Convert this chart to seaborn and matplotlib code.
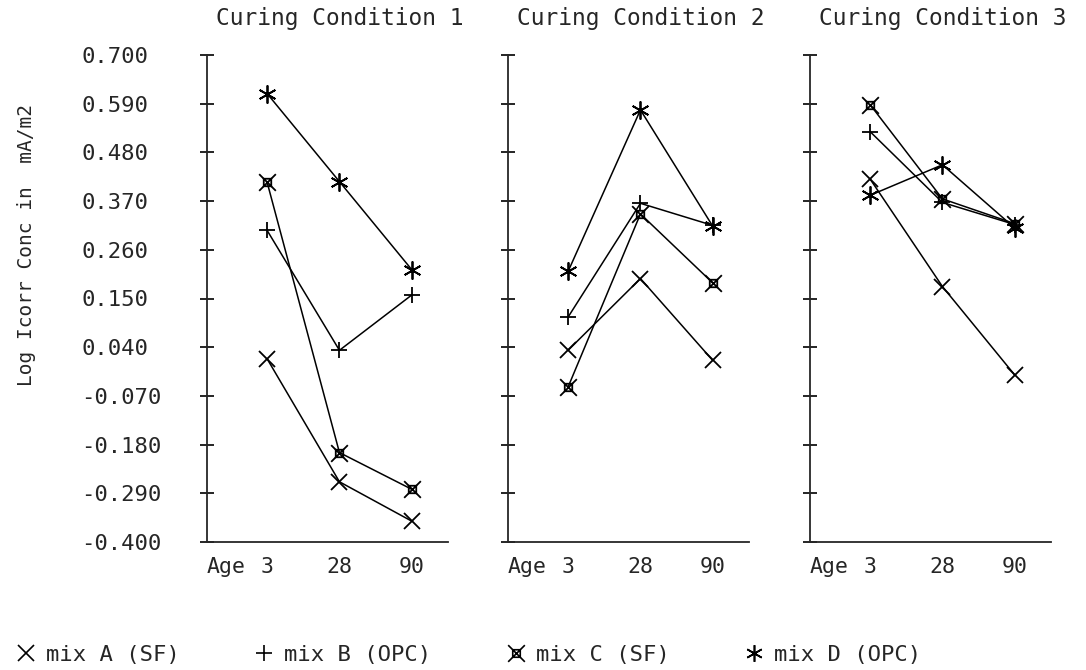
import numpy as np
import pandas as pd
import matplotlib
matplotlib.use("Agg")
import matplotlib.pyplot as plt
from matplotlib.path import Path
from matplotlib.markers import MarkerStyle
from matplotlib.lines import Line2D
import seaborn as sns

# ---- data -------------------------------------------------------------
conditions = ["Curing Condition 1", "Curing Condition 2", "Curing Condition 3"]
ages = ["3", "28", "90"]
mix_labels = ["mix A (SF)", "mix B (OPC)", "mix C (SF)", "mix D (OPC)"]

# log Icorr per curing condition, ages 3 / 28 / 90 days
mix_a = [[0.014, -0.264, -0.353], [0.033, 0.195, 0.010], [0.420, 0.177, -0.023]]
mix_b = [[0.304, 0.033, 0.158], [0.108, 0.365, 0.315], [0.527, 0.367, 0.317]]
mix_c = [[0.413, -0.198, -0.281], [-0.050, 0.341, 0.185], [0.588, 0.375, 0.319]]
mix_d = [[0.613, 0.414, 0.215], [0.211, 0.576, 0.313], [0.383, 0.452, 0.309]]

y_ticks = [-0.400, -0.290, -0.180, -0.070, 0.040, 0.150, 0.260, 0.370, 0.480, 0.590, 0.700]
y_tick_labels = ["-0.400", "-0.290", "-0.180", "-0.070", "0.040", "0.150",
                 "0.260", "0.370", "0.480", "0.590", "0.700"]

rows = []
for mix, series in zip(mix_labels, [mix_a, mix_b, mix_c, mix_d]):
    for ci, cond in enumerate(conditions):
        for ai, age in enumerate(ages):
            rows.append({"condition": cond, "mix": mix, "age_pos": ai,
                         "value": series[ci][ai]})
df = pd.DataFrame(rows)

# ---- markers ----------------------------------------------------------
boxed_x = Path(
    [(-1, -1), (1, 1), (-1, 1), (1, -1),
     (-0.45, -0.45), (0.45, -0.45), (0.45, 0.45), (-0.45, 0.45), (-0.45, -0.45)],
    [Path.MOVETO, Path.LINETO, Path.MOVETO, Path.LINETO,
     Path.MOVETO, Path.LINETO, Path.LINETO, Path.LINETO, Path.CLOSEPOLY],
)
markers = {
    "mix A (SF)": ("x", 12),
    "mix B (OPC)": ("+", 12),
    "mix C (SF)": (MarkerStyle(boxed_x, fillstyle="none"), 12),
    "mix D (OPC)": ((6, 2, 0), 13),
}

# ---- style ------------------------------------------------------------
sns.set_style("white")
plt.rcParams["font.family"] = ["DejaVu Sans Mono", "DejaVu Sans"]
plt.rcParams["axes.linewidth"] = 1.3

fig = plt.figure(figsize=(10.86, 6.70), dpi=100)
lefts = [207, 508, 810]
W, H = 1086, 670
ax_w, ax_bottom, ax_h = 241, 128, 487

for i, cond in enumerate(conditions):
    ax = fig.add_axes([lefts[i] / W, ax_bottom / H, ax_w / W, ax_h / H])
    sub = df[df["condition"] == cond]
    for mix in mix_labels:
        m, ms = markers[mix]
        d = sub[sub["mix"] == mix]
        sns.lineplot(data=d, x="age_pos", y="value", ax=ax, color="black",
                     linewidth=1.1, marker=m, markersize=ms,
                     markeredgewidth=1.3, markeredgecolor="black",
                     markerfacecolor="none", errorbar=None, sort=False,
                     legend=False)
    ax.set_xlim(-0.83, 2.5)
    ax.set_ylim(-0.4, 0.7)
    sns.despine(ax=ax, top=True, right=True)
    ax.set_xlabel("")
    ax.set_ylabel("")
    ax.set_xticks(range(len(ages)))
    ax.set_xticklabels(ages, fontsize=15.5)
    ax.tick_params(axis="x", bottom=False, length=0, pad=11)
    ax.set_yticks(y_ticks)
    ax.tick_params(axis="y", left=True, direction="inout", length=9.4,
                   width=1.2, color="black")
    if i == 0:
        ax.set_yticklabels(y_tick_labels, fontsize=16, ha="left")
        ax.tick_params(axis="y", pad=86)
    else:
        ax.set_yticklabels([])
    ax.annotate("Age", xy=(0, 0), xycoords="axes fraction", xytext=(0, -11),
                textcoords="offset points", ha="left", va="top", fontsize=15.5)
    ax.annotate(cond, xy=(1, 1), xycoords=("data", "axes fraction"),
                xytext=(0, 26), textcoords="offset points", ha="center",
                va="center", fontsize=16.5)
    ax.grid(False)

fig.text(27 / W, 1 - 245 / H, "Log Icorr Conc in  mA/m2", rotation=90,
         ha="center", va="center", fontsize=14)

handles = [Line2D([], [], linestyle="none", marker=markers[m][0],
                  markersize=12, markeredgewidth=1.2, color="black",
                  markerfacecolor="none") for m in mix_labels]
fig.legend(handles, mix_labels, loc="center left",
           bbox_to_anchor=(6 / W, 1 - 655 / H), ncol=4, frameon=False,
           fontsize=16, handlelength=1.0, handletextpad=0.4,
           columnspacing=3.3, borderaxespad=0)

fig.savefig("out.png", dpi=100, facecolor="white")
